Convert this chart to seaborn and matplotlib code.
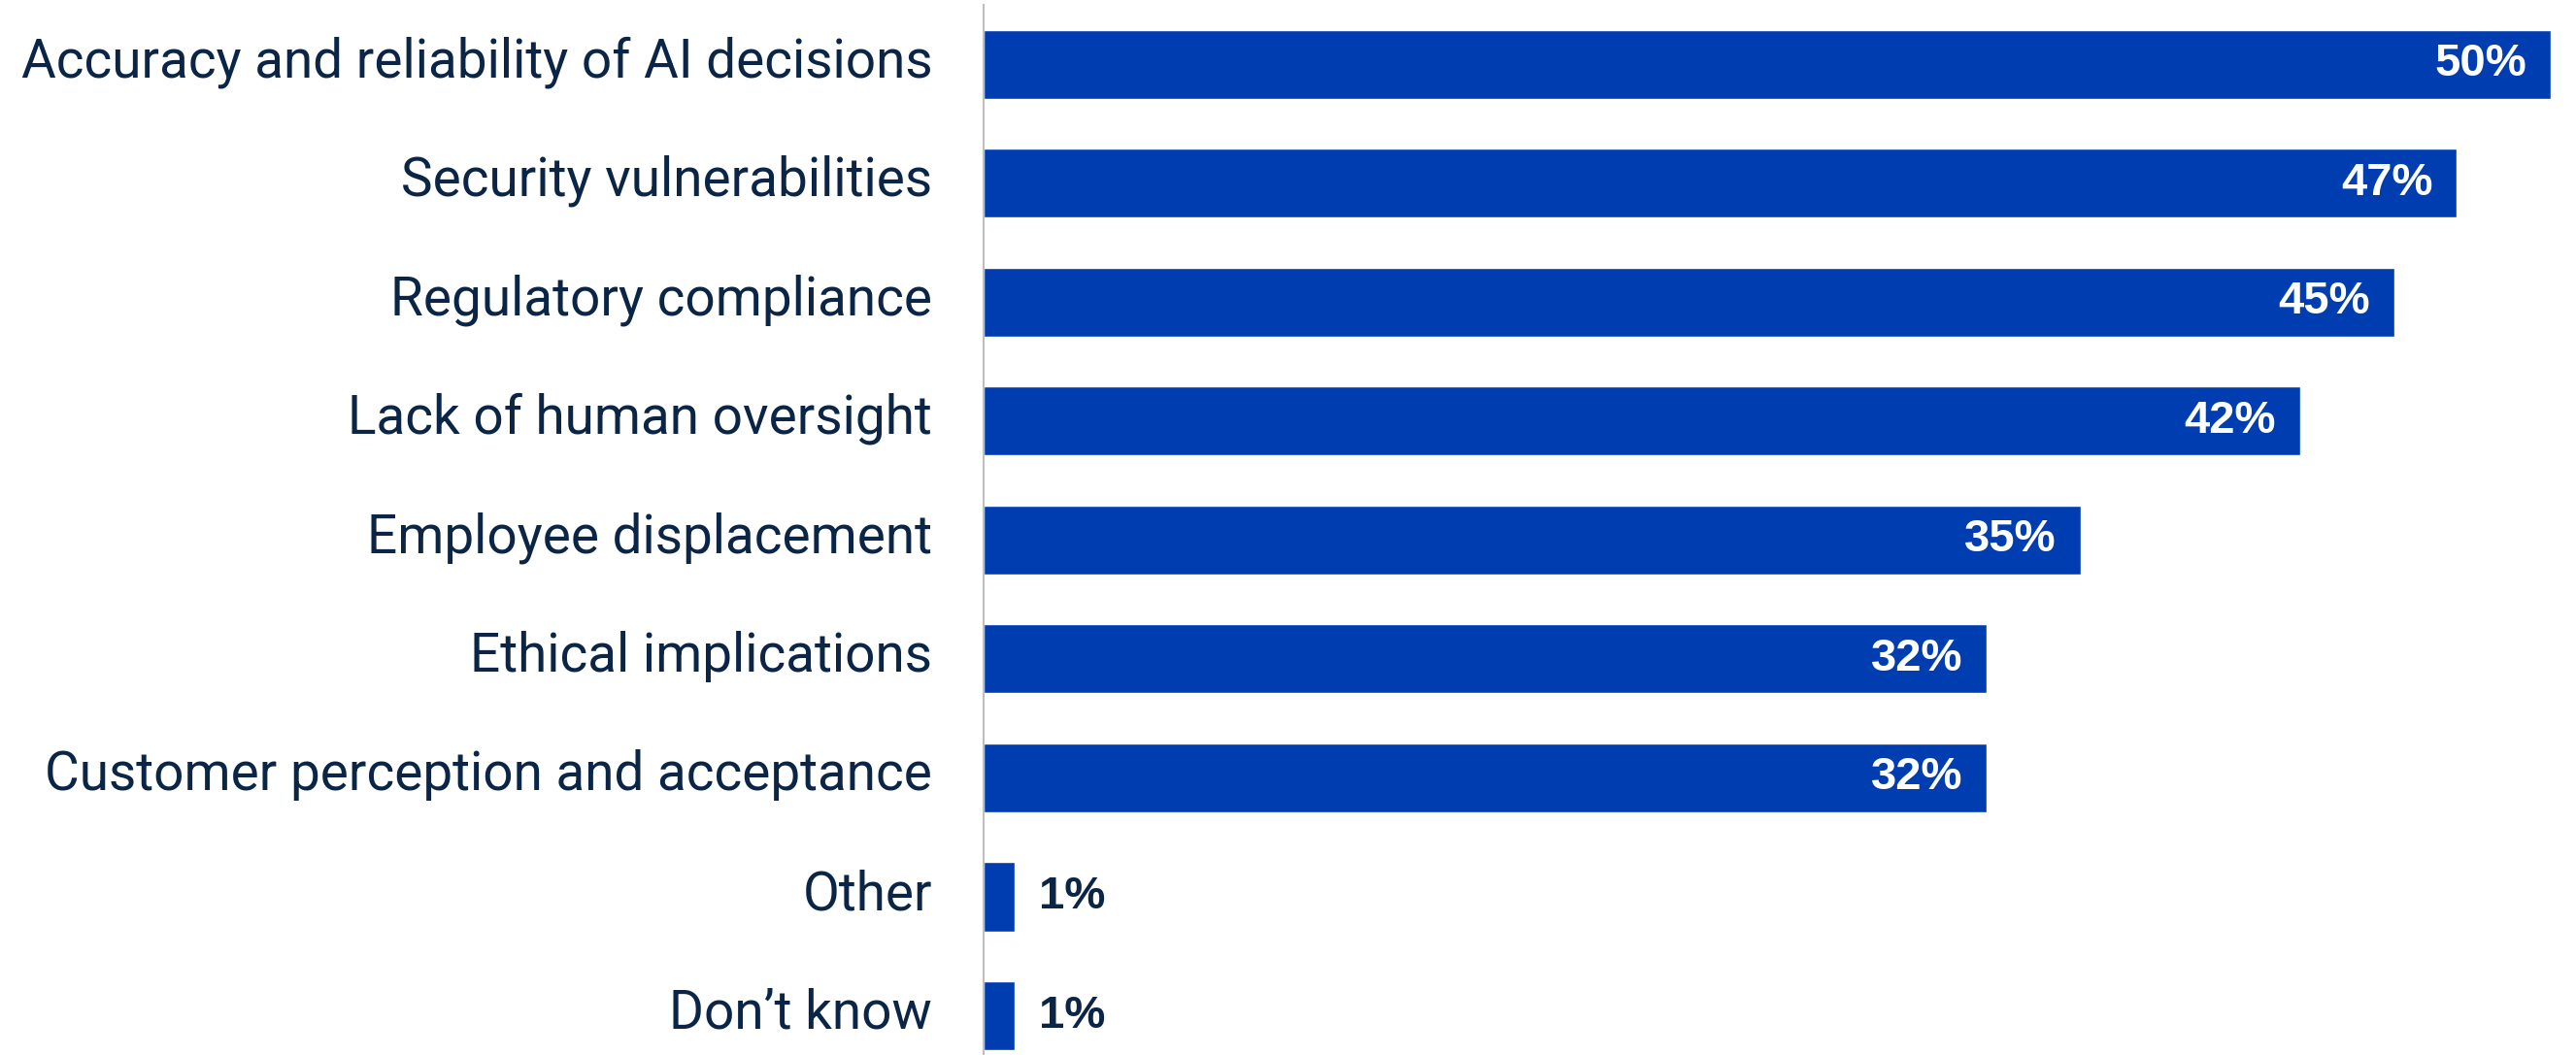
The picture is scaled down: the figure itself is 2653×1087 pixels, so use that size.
import matplotlib
matplotlib.use("Agg")
import matplotlib.pyplot as plt
import matplotlib.transforms as mtransforms
import seaborn as sns
import pandas as pd

categories = [
    "Accuracy and reliability of AI decisions",
    "Security vulnerabilities",
    "Regulatory compliance",
    "Lack of human oversight",
    "Employee displacement",
    "Ethical implications",
    "Customer perception and acceptance",
    "Other",
    "Don\u2019t know",
]
values = [50, 47, 45, 42, 35, 32, 32, 1, 1]
value_labels = ["50%", "47%", "45%", "42%", "35%", "32%", "32%", "1%", "1%"]

BAR = "#003DB1"
NAVY = "#0B2547"

sns.set_theme(style="white")
plt.rcParams["font.family"] = ["Roboto", "DejaVu Sans"]

df = pd.DataFrame({"category": categories, "value": values})

fig = plt.figure(figsize=(26.53, 10.87), dpi=100)
ax = fig.add_axes([1013 / 2653, 0.0, 1 - 1013 / 2653, (1087 - 5) / 1087])

sns.barplot(data=df, y="category", x="value", orient="h", color=BAR,
            saturation=1, width=0.58, ax=ax, order=categories)

ax.set_xlim(0, 50.8)
ax.set_ylim(8.33, -0.5)
ax.set_xlabel("")
ax.set_ylabel("")
ax.set_xticks([])
for s in ["top", "right", "bottom"]:
    ax.spines[s].set_visible(False)
ax.spines["left"].set_color("#BFBFBF")
ax.spines["left"].set_linewidth(1.5)
ax.tick_params(axis="y", length=0, pad=38, labelsize=39.5, labelcolor=NAVY)

shift = mtransforms.ScaledTranslation(0, 8 / 100, fig.dpi_scale_trans)
for lbl in ax.get_yticklabels():
    lbl.set_transform(lbl.get_transform() + shift)

for i, (v, lab) in enumerate(zip(values, value_labels)):
    if v >= 10:
        ax.annotate(lab, xy=(v, i), xytext=(-18, 0), textcoords="offset points",
                    ha="right", va="center", color="white", fontsize=34,
                    fontweight="bold", family="Liberation Sans")
    else:
        ax.annotate(lab, xy=(v, i), xytext=(18, 0), textcoords="offset points",
                    ha="left", va="center", color=NAVY, fontsize=34,
                    fontweight="bold", family="Liberation Sans")

fig.savefig("out.png", dpi=100)
